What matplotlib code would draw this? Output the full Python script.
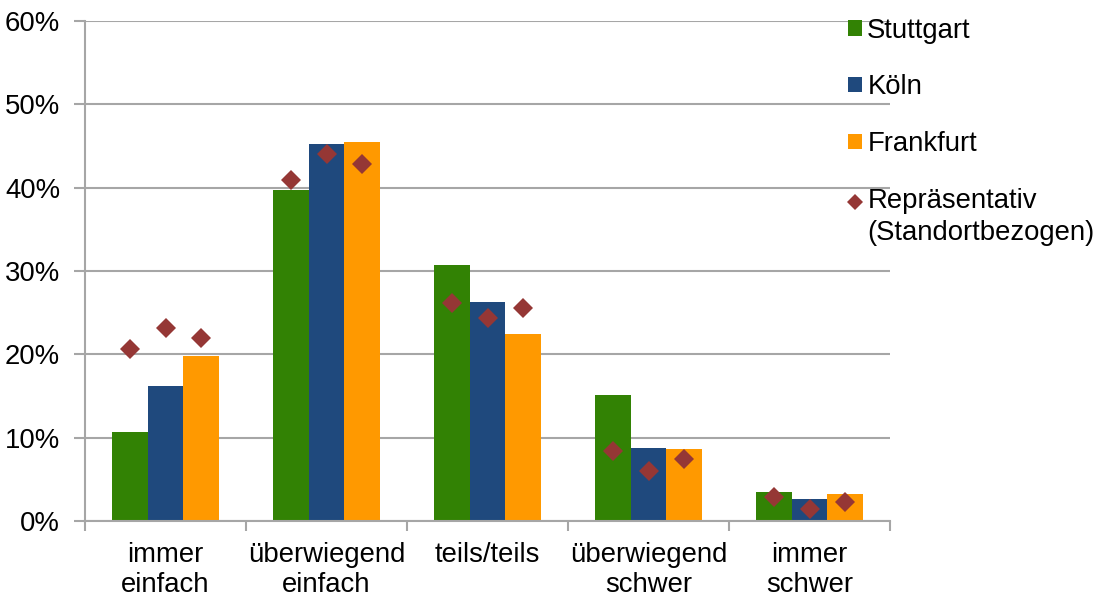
import matplotlib
matplotlib.use("Agg")
import matplotlib.pyplot as plt
from matplotlib.patches import Patch
from matplotlib.lines import Line2D
from matplotlib.legend_handler import HandlerLine2D
from matplotlib.transforms import Affine2D
import numpy as np

plt.rcParams['font.family'] = ['Liberation Sans', 'DejaVu Sans']

categories = ["immer\neinfach", "überwiegend\neinfach", "teils/teils", "überwiegend\nschwer", "immer\nschwer"]
cities = ["Stuttgart", "Köln", "Frankfurt"]
stuttgart = [10.7, 39.7, 30.7, 15.1, 3.5]
koeln = [16.2, 45.2, 26.3, 8.8, 2.7]
frankfurt = [19.8, 45.5, 22.4, 8.6, 3.2]
repr_stuttgart = [20.6, 40.9, 26.2, 8.4, 2.9]
repr_koeln = [23.2, 44.0, 24.4, 6.0, 1.5]
repr_frankfurt = [22.0, 42.8, 25.6, 7.4, 2.3]
yticks = [0, 10, 20, 30, 40, 50, 60]
ytick_labels = ["0%", "10%", "20%", "30%", "40%", "50%", "60%"]
repr_label = "Repräsentativ\n(Standortbezogen)"

colors = ["#328204", "#1F497D", "#FF9900"]
diamond_color = "#953735"
grid_color = "#A6A6A6"
FS = 19.8

fig = plt.figure(figsize=(10.93, 5.97), dpi=100)
ax = fig.add_axes([85/1093, 1-521/597, (890-85)/1093, 500/597])

x = np.arange(len(categories))
w = 1/4.5
series = [stuttgart, koeln, frankfurt]
reps = [repr_stuttgart, repr_koeln, repr_frankfurt]
for i, (vals, col) in enumerate(zip(series, colors)):
    off = (i - 1) * w
    ax.bar(x + off, vals, width=w, color=col, zorder=2, linewidth=0)
for i, vals in enumerate(reps):
    off = (i - 1) * w
    ax.plot(x + off, vals, linestyle='none', marker='D', markersize=10.5,
            color=diamond_color, markeredgewidth=0, zorder=3)

ax.set_xlim(-0.5, len(categories) - 0.5)
ax.set_ylim(0, 60)
ax.set_yticks(yticks)
ax.set_yticklabels(ytick_labels)
ax.yaxis.grid(True, color=grid_color, linewidth=1.5, zorder=0)
ax.set_axisbelow(True)

ax.set_xticks(x)
ax.set_xticklabels(categories, linespacing=1.22)
ax.set_xticks(np.arange(len(categories) + 1) - 0.5, minor=True)
ax.tick_params(axis='x', which='major', length=0, pad=15, labelsize=FS)
ax.tick_params(axis='x', which='minor', length=7, width=1.5, color=grid_color)
ax.tick_params(axis='y', length=8, width=1.5, color=grid_color, pad=10, labelsize=FS)

for s in ['top', 'right']:
    ax.spines[s].set_visible(False)
for s in ['left', 'bottom']:
    ax.spines[s].set_color(grid_color)
    ax.spines[s].set_linewidth(1.5)


class FirstLineHandler(HandlerLine2D):
    def __init__(self, dy, **kw):
        super().__init__(**kw)
        self.dy = dy

    def create_artists(self, legend, orig_handle, xdescent, ydescent, width, height, fontsize, trans):
        arts = super().create_artists(legend, orig_handle, xdescent, ydescent, width, height, fontsize, trans)
        for a in arts:
            a.set_transform(Affine2D().translate(0, self.dy) + trans)
        return arts


handles = [Patch(facecolor=c, edgecolor='none') for c in colors]
rep_handle = Line2D([], [], linestyle='none', marker='D', markersize=8.5,
                    color=diamond_color, markeredgewidth=0)
handles.append(rep_handle)
labels = cities + [repr_label]
leg = fig.legend(handles, labels, loc='upper left', bbox_to_anchor=(848/1093, 1-17.5/597),
                 frameon=False, fontsize=FS, handlelength=0.5, handleheight=0.5,
                 handletextpad=0.2, labelspacing=1.12, borderaxespad=0, borderpad=0,
                 handler_map={rep_handle: FirstLineHandler(dy=11.5)})
leg.get_texts()[3].set_linespacing(1.3)

fig.savefig("out.png", dpi=100)
